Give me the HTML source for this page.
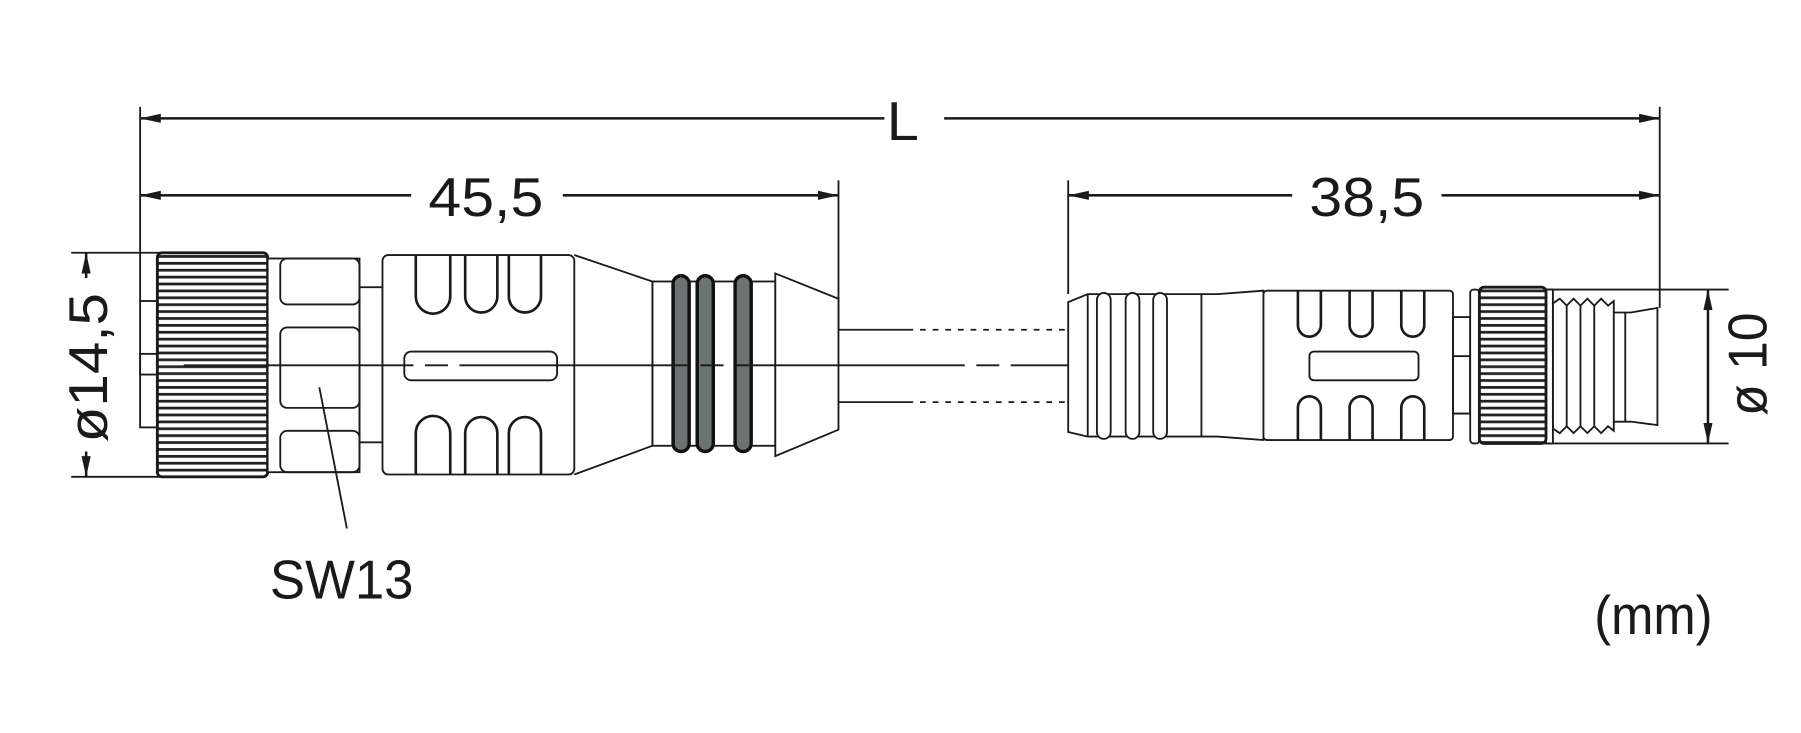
<!DOCTYPE html>
<html><head><meta charset="utf-8"><style>html,body{margin:0;padding:0;background:#fff}svg{display:block}</style></head>
<body>
<svg width="1801" height="733" viewBox="0 0 1568 638" preserveAspectRatio="none" xmlns="http://www.w3.org/2000/svg">
<defs>
<marker id="a" viewBox="0 0 18 8" refX="18" refY="4" markerWidth="18" markerHeight="8" markerUnits="userSpaceOnUse" orient="auto-start-reverse"><path d="M0,0 L18,4 L0,8z" fill="#1a1a1a"/></marker>
<pattern id="kn" width="8" height="6" patternUnits="userSpaceOnUse"><rect width="8" height="6" fill="#fff"/><rect y="0" width="8" height="2.4" fill="#222"/></pattern>
</defs>
<g stroke="#1a1a1a" fill="none" stroke-width="1.6">
<line x1="122" y1="93" x2="122" y2="262"/>
<line x1="1445" y1="93" x2="1445" y2="268"/>
<line x1="730" y1="157" x2="730" y2="287"/>
<line x1="930" y1="157" x2="930" y2="256"/>
<line x1="62" y1="220" x2="140" y2="220"/>
<line x1="62" y1="415" x2="140" y2="415"/>
<line x1="1330" y1="252" x2="1505" y2="252"/>
<line x1="1330" y1="386" x2="1505" y2="386"/>
<g stroke-width="2.2">
<line x1="122" y1="103" x2="770" y2="103" marker-start="url(#a)"/>
<line x1="822" y1="103" x2="1445" y2="103" marker-end="url(#a)"/>
<line x1="122" y1="170" x2="358" y2="170" marker-start="url(#a)"/>
<line x1="490" y1="170" x2="730" y2="170" marker-end="url(#a)"/>
<line x1="930" y1="170" x2="1125" y2="170" marker-start="url(#a)"/>
<line x1="1255" y1="170" x2="1445" y2="170" marker-end="url(#a)"/>
<line x1="75" y1="220" x2="75" y2="242" marker-start="url(#a)"/>
<line x1="75" y1="393" x2="75" y2="415" marker-end="url(#a)"/>
<line x1="1487" y1="252" x2="1487" y2="386" marker-start="url(#a)" marker-end="url(#a)"/>
</g>
<rect x="122" y="262" width="15" height="110" fill="#fff"/>
<rect x="122" y="308" width="15" height="18"/>
<rect x="137" y="220" width="96" height="195" rx="4" fill="url(#kn)" stroke-width="2.5"/>
<rect x="233" y="225" width="80" height="186" fill="#fff"/>
<rect x="244" y="225" width="69" height="40" rx="6"/>
<rect x="244" y="285" width="69" height="70" rx="6"/>
<rect x="244" y="375" width="69" height="36" rx="6"/>
<rect x="313" y="250" width="20" height="135"/>
<rect x="333" y="222" width="167" height="191" rx="5" fill="#fff"/>
<g stroke-width="2.3">
<path d="M362,222 V258 a15,15 0 0 0 30,0 V222"/><path d="M405,222 V258 a14,14 0 0 0 28,0 V222"/><path d="M443,222 V258 a14,14 0 0 0 28,0 V222"/>
<path d="M362,413 V377 a15,15 0 0 1 30,0 V413"/><path d="M405,413 V377 a14,14 0 0 1 28,0 V413"/><path d="M443,413 V377 a14,14 0 0 1 28,0 V413"/>
</g>
<rect x="352" y="306" width="133" height="25" rx="6"/>
<path d="M500,222 L568,245 V388 L500,413"/>
<rect x="568" y="245" width="107" height="143"/>
<g stroke="#111" stroke-width="3" fill="#6d7272">
<rect x="586" y="240" width="14" height="153" rx="7"/>
<rect x="607" y="240" width="14" height="153" rx="7"/>
<rect x="640" y="240" width="14" height="153" rx="7"/>
</g>
<path d="M675,238 L730,260 V374 L675,397 Z" fill="#fff"/>
<line x1="730" y1="287" x2="790" y2="287"/><line x1="730" y1="350" x2="790" y2="350"/>
<line x1="790" y1="287" x2="930" y2="287" stroke-dasharray="5,6"/><line x1="790" y1="350" x2="930" y2="350" stroke-dasharray="5,6"/>
<line x1="160" y1="318" x2="1230" y2="318" stroke-dasharray="200,10,20,10"/>
<path d="M930,263 L947,256 H1060 L1100,253 V383 L1060,380 H947 L930,376 Z" fill="#fff"/>
<line x1="947" y1="256" x2="947" y2="380"/>
<rect x="955" y="255" width="12" height="127" rx="6" fill="#fff"/>
<rect x="980" y="255" width="12" height="127" rx="6" fill="#fff"/>
<rect x="1004" y="255" width="12" height="127" rx="6" fill="#fff"/>
<line x1="1046" y1="256" x2="1046" y2="380"/>
<rect x="1100" y="253" width="165" height="130" rx="3" fill="#fff"/>
<g stroke-width="2.3">
<path d="M1130,253 V283 a10,10 0 0 0 20,0 V253"/><path d="M1175,253 V283 a10,10 0 0 0 20,0 V253"/><path d="M1220,253 V283 a10,10 0 0 0 20,0 V253"/>
<path d="M1130,383 V355 a10,10 0 0 1 20,0 V383"/><path d="M1175,383 V355 a10,10 0 0 1 20,0 V383"/><path d="M1220,383 V355 a10,10 0 0 1 20,0 V383"/>
</g>
<rect x="1140" y="306" width="95" height="25" rx="4"/>
<rect x="1265" y="310" width="15" height="50"/><rect x="1265" y="276" width="15" height="84"/>
<rect x="1280" y="252" width="8" height="134" rx="3" fill="#fff"/>
<rect x="1288" y="250" width="58" height="136" rx="4" fill="url(#kn)" stroke-width="2.5"/>
<rect x="1346" y="252" width="6" height="134"/>
<path d="M1352,264 L1358,260 L1364,266 L1370,260 L1376,266 L1382,260 L1388,266 L1394,260 L1400,266 L1405,262 V375 L1400,371 L1394,377 L1388,371 L1382,377 L1376,371 L1370,377 L1364,371 L1358,377 L1352,373 Z"/>
<line x1="1364" y1="266" x2="1364" y2="371"/><line x1="1376" y1="266" x2="1376" y2="371"/><line x1="1388" y1="266" x2="1388" y2="371"/>
<path d="M1405,272 H1420 L1443,268 V370 L1420,367 H1405"/>
<line x1="1415" y1="272" x2="1415" y2="367"/>
<line x1="278" y1="337" x2="302" y2="460"/>
</g>
<g font-family="'Liberation Sans',sans-serif" fill="#1a1a1a" font-size="48">
<text x="772" y="122" textLength="28" lengthAdjust="spacingAndGlyphs">L</text>
<text x="373" y="188" textLength="100" lengthAdjust="spacingAndGlyphs">45,5</text>
<text x="1140" y="188" textLength="100" lengthAdjust="spacingAndGlyphs">38,5</text>
<text x="235" y="521" textLength="125" lengthAdjust="spacingAndGlyphs">SW13</text>
<text x="1388" y="552" textLength="103" lengthAdjust="spacingAndGlyphs">(mm)</text>
<text transform="translate(93,385) rotate(-90)" textLength="130" lengthAdjust="spacingAndGlyphs">ø14,5</text>
<text transform="translate(1538,362) rotate(-90)" textLength="90" lengthAdjust="spacingAndGlyphs">ø 10</text>
</g>
</svg>
</body></html>
